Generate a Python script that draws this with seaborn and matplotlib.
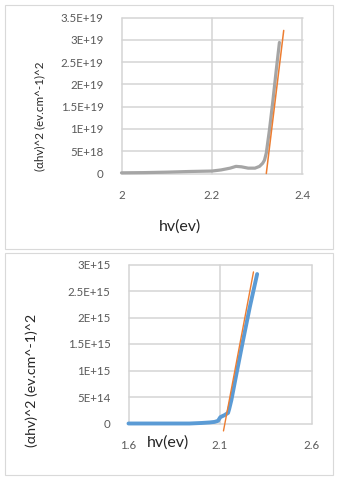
import matplotlib
matplotlib.use("Agg")
import matplotlib.pyplot as plt
import seaborn as sns
import pandas as pd
from matplotlib.patches import Rectangle

# ---- data: top panel (y in units of 1e18) ----
top_x = [2.00, 2.05, 2.10, 2.15, 2.20, 2.22, 2.24, 2.253, 2.265, 2.28, 2.295,
         2.305, 2.312, 2.316, 2.320, 2.327, 2.334, 2.342, 2.349]
top_y = [0.15, 0.2, 0.3, 0.45, 0.55, 0.8, 1.2, 1.6, 1.5, 1.2, 1.2,
         1.6, 2.3, 3.0, 4.6, 9.8, 15.8, 23.2, 29.4]
top_fit_x = [2.320, 2.3585]
top_fit_y = [0.0, 32.1]
top_xticks = [2.0, 2.2, 2.4]
top_xtick_labels = ["2", "2.2", "2.4"]
top_yticks = [0, 5, 10, 15, 20, 25, 30, 35]
top_ytick_labels = ["0", "5E+18", "1E+19", "1.5E+19", "2E+19", "2.5E+19", "3E+19", "3.5E+19"]

# ---- data: bottom panel (y in units of 1e15) ----
bot_x = [1.60, 1.80, 1.934, 2.00, 2.044, 2.07, 2.089, 2.102, 2.126, 2.144,
         2.150, 2.162, 2.19, 2.226, 2.263, 2.303]
bot_y = [0.0, 0.0, 0.0, 0.01, 0.02, 0.03, 0.05, 0.12, 0.16, 0.2,
         0.27, 0.44, 0.94, 1.57, 2.2, 2.82]
bot_fit_x = [2.119, 2.283]
bot_fit_y = [-0.14, 2.86]
bot_xticks = [1.6, 2.1, 2.6]
bot_xtick_labels = ["1.6", "2.1", "2.6"]
bot_yticks = [0, 0.5, 1.0, 1.5, 2.0, 2.5, 3.0]
bot_ytick_labels = ["0", "5E+14", "1E+15", "1.5E+15", "2E+15", "2.5E+15", "3E+15"]

ylabel_text = "(αhv)^2 (ev.cm^-1)^2"
xlabel_text = "hv(ev)"

sns.set_style("white")
plt.rcParams['font.family'] = ['Lato', 'DejaVu Sans']

W, H = 338, 480
fig = plt.figure(figsize=(W / 100, H / 100), dpi=100)
fig.patch.set_facecolor("white")

def fx(px):
    return px / W

def fy(py):
    return 1 - py / H

# panel borders
for (x0, y0, x1, y1) in [(5, 5, 333, 249), (5, 253, 333, 475)]:
    fig.patches.append(Rectangle((fx(x0), fy(y1)), fx(x1) - fx(x0), fy(y0) - fy(y1),
                                 transform=fig.transFigure, fill=False,
                                 edgecolor="#d9d9d9", linewidth=0.8))

grid_c = "#d4d4d4"
tick_c = "#595959"

def style_ax(ax, xticks, xlabels, yticks, ylabels, xlim, ylim):
    ax.set_xlim(*xlim)
    ax.set_ylim(*ylim)
    ax.set_xticks(xticks)
    ax.set_xticklabels(xlabels)
    ax.set_yticks(yticks)
    ax.set_yticklabels(ylabels)
    for s in ax.spines.values():
        s.set_visible(False)
    ax.grid(False)
    for xv in xticks:
        ax.axvline(xv, color=grid_c, linewidth=1.1, zorder=0, clip_on=False, snap=True)
    for yv in yticks:
        ax.axhline(yv, color=grid_c, linewidth=1.1, zorder=0, clip_on=False, snap=True)
    ax.tick_params(axis="both", length=0, colors=tick_c, labelsize=8.3)
    ax.tick_params(axis="y", pad=13)
    ax.tick_params(axis="x", pad=12)
    ax.set_xlabel("")
    ax.set_ylabel("")
    for t in ax.get_xticklabels() + ax.get_yticklabels():
        t.set_color(tick_c)

# top axes
ax1 = fig.add_axes([fx(121.5), fy(173.5), fx(302.5) - fx(121.5), fy(17.5) - fy(173.5)])
sns.lineplot(x=top_x, y=top_y, ax=ax1, color="#a5a5a5", linewidth=2.3, sort=False, zorder=3)
sns.lineplot(x=top_fit_x, y=top_fit_y, ax=ax1, color="#ed7d31", linewidth=1.1, sort=False, zorder=4)
for l in ax1.lines:
    l.set_clip_on(False)
style_ax(ax1, top_xticks, top_xtick_labels, top_yticks, top_ytick_labels, (2.0, 2.4), (0, 35))

# bottom axes
ax2 = fig.add_axes([fx(128.5), fy(423.5), fx(311.5) - fx(128.5), fy(264.5) - fy(423.5)])
sns.lineplot(x=bot_x, y=bot_y, ax=ax2, color="#5b9bd5", linewidth=2.8, sort=False, zorder=3)
sns.lineplot(x=bot_fit_x, y=bot_fit_y, ax=ax2, color="#ed7d31", linewidth=1.0, sort=False, zorder=4)
for l in ax2.lines:
    l.set_clip_on(False)
style_ax(ax2, bot_xticks, bot_xtick_labels, bot_yticks, bot_ytick_labels, (1.6, 2.6), (0, 3.0))

# labels
fig.text(fx(180), fy(227), xlabel_text, ha="center", va="center", fontsize=11.5, color="#262626")
fig.text(fx(40), fy(116), ylabel_text, ha="center", va="center", rotation=90, fontsize=8.4, color="#262626")
fig.text(fx(168), fy(443), xlabel_text, ha="center", va="center", fontsize=11.5, color="#262626")
fig.text(fx(32), fy(380), ylabel_text, ha="center", va="center", rotation=90, fontsize=10.2, color="#262626")

fig.savefig("out.png", dpi=100, facecolor="white")
